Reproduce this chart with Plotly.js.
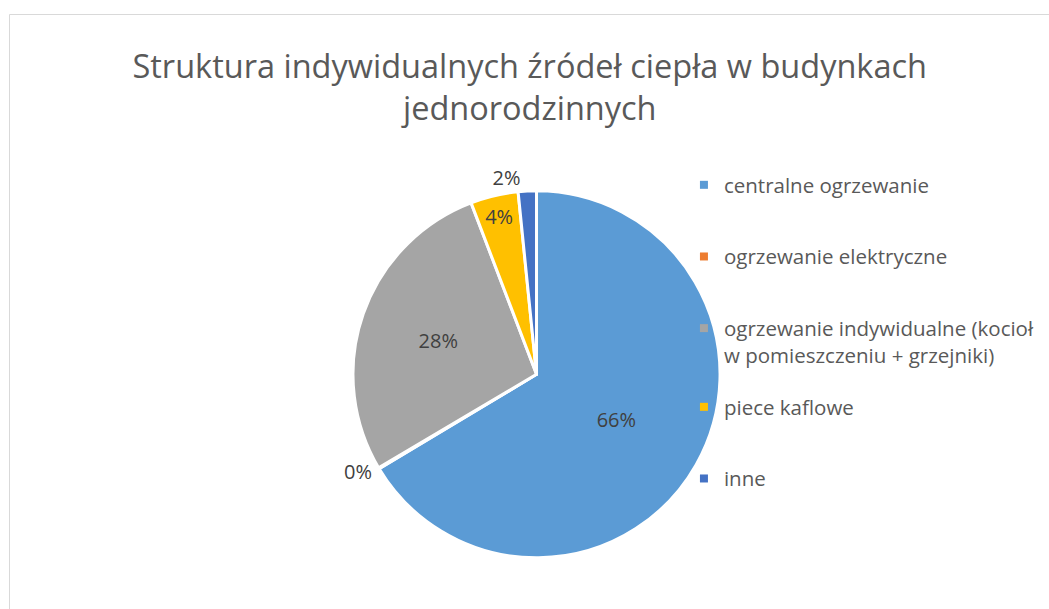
<!DOCTYPE html>
<html>
<head>
<meta charset="utf-8">
<script src="https://cdn.plot.ly/plotly-3.0.1.min.js"></script>
<style>html,body{margin:0;padding:0;background:#fff;}#chart{width:1049px;height:609px;}</style>
</head>
<body>
<div id="chart"></div>
<script>
var categories = ["centralne ogrzewanie", "ogrzewanie elektryczne", "ogrzewanie indywidualne (kocioł<br>w pomieszczeniu + grzejniki)", "piece kaflowe", "inne"];
var values = [66.4, 0.1, 27.7, 4.2, 1.6];
var colors = ["#5B9BD5", "#ED7D31", "#A5A5A5", "#FFC000", "#4472C4"];
var textPositions = ["inside", "outside", "inside", "inside", "outside"];
var titleText = "Struktura indywidualnych źródeł ciepła w budynkach<br>jednorodzinnych";

var FONT = "Open Sans, Liberation Sans, sans-serif";

var pie = {
  type: "pie",
  labels: categories,
  values: values,
  sort: false,
  direction: "clockwise",
  rotation: 0,
  marker: {colors: colors, line: {color: "#ffffff", width: 3}},
  texttemplate: "%{percent:.0%}",
  textposition: textPositions,
  insidetextorientation: "horizontal",
  textfont: {family: FONT, size: 20, color: "#404040"},
  showlegend: false,
  hoverinfo: "label+percent",
  domain: {x: [0.3365, 0.6864], y: [0.0837, 0.687]}
};

var legendTraces = categories.map(function (c, i) {
  return {
    type: "scatter",
    mode: "markers",
    x: [null], y: [null],
    name: c,
    legendgroup: "g" + i,
    legend: i < 3 ? "legend" : "legend2",
    marker: {symbol: "square", size: 8, color: colors[i]},
    showlegend: true,
    hoverinfo: "skip"
  };
});

var legendCommon = {
  xanchor: "left", yanchor: "top",
  font: {family: FONT, size: 20.5, color: "#595959"},
  bgcolor: "rgba(0,0,0,0)",
  tracegroupgap: 42,
  valign: "top",
  itemclick: false, itemdoubleclick: false
};

var layout = {
  width: 1049, height: 609,
  margin: {l: 0, r: 0, t: 0, b: 0},
  paper_bgcolor: "#ffffff",
  plot_bgcolor: "#ffffff",
  title: {text: titleText, font: {family: FONT, size: 32.5, color: "#595959"}, x: 0.505, xanchor: "center", y: 0.872, yanchor: "top"},
  xaxis: {visible: false},
  yaxis: {visible: false},
  legend: Object.assign({x: 0.652, y: 1 - 165 / 609}, legendCommon),
  legend2: Object.assign({x: 0.652, y: 1 - 387 / 609}, legendCommon),
  shapes: [{type: "rect", xref: "paper", yref: "paper", x0: 9.5 / 1049, x1: 1.05, y0: -0.05, y1: 1 - 14.5 / 609, line: {color: "#d9d9d9", width: 1}, layer: "below"}]
};

Plotly.newPlot("chart", [pie].concat(legendTraces), layout, {displayModeBar: false, staticPlot: true});
</script>
</body>
</html>
